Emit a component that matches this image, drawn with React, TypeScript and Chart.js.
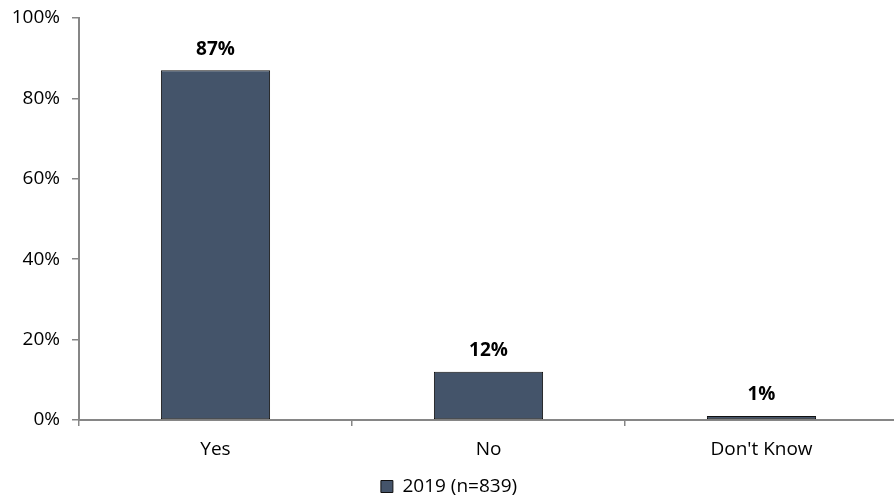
import React, { useEffect, useRef } from "react";
import { Chart, registerables } from "chart.js";

Chart.register(...registerables);

const categories = ["Yes", "No", "Don't Know"];
const seriesLabel = "2019 (n=839)";
const values = [87, 12, 1];
const yTicks = [0, 20, 40, 60, 80, 100];

const FONT = "'Open Sans', sans-serif";
const BAR_COLOR = "#44546A";
const AXIS_COLOR = "#868686";

const dataLabels = {
  id: "dataLabels",
  afterDatasetsDraw(chart: any) {
    const ctx = chart.ctx;
    const meta = chart.getDatasetMeta(0);
    ctx.save();
    ctx.font = `bold 19px ${FONT}`;
    ctx.fillStyle = "#000";
    ctx.textAlign = "center";
    ctx.textBaseline = "middle";
    meta.data.forEach((bar: any, i: number) => {
      ctx.fillText(`${values[i]}%`, bar.x, bar.y - 21);
    });
    ctx.restore();
  },
};

export default function App() {
  const ref = useRef<HTMLCanvasElement | null>(null);

  useEffect(() => {
    if (!ref.current) return;
    const chart = new Chart(ref.current, {
      type: "bar",
      data: {
        labels: categories,
        datasets: [
          {
            label: seriesLabel,
            data: values,
            backgroundColor: BAR_COLOR,
            borderColor: "#111",
            borderWidth: 1,
            borderSkipped: false,
            categoryPercentage: 1,
            barPercentage: 0.4,
          },
        ],
      },
      options: {
        responsive: false,
        animation: false,
        layout: { padding: { top: 18, right: 2, left: 0, bottom: 0 } },
        plugins: {
          legend: {
            position: "bottom",
            labels: {
              color: "#000",
              font: { family: FONT, size: 19 },
              boxWidth: 12,
              boxHeight: 12,
              padding: 10,
            },
          },
          tooltip: { enabled: false },
        },
        scales: {
          x: {
            grid: {
              display: true,
              drawOnChartArea: false,
              drawTicks: true,
              tickLength: 6,
              color: AXIS_COLOR,
              lineWidth: 1.5,
              offset: true,
            },
            border: { display: true, color: AXIS_COLOR, width: 2 },
            ticks: {
              color: "#000",
              font: { family: FONT, size: 19 },
              padding: 12,
            },
            afterFit(scale: any) {
              scale.height = 47;
              scale.paddingLeft = 0;
              scale.paddingRight = 0;
            },
          },
          y: {
            min: 0,
            max: 100,
            afterBuildTicks(scale: any) {
              scale.ticks = yTicks.map((v) => ({ value: v }));
            },
            grid: {
              display: true,
              drawOnChartArea: false,
              drawTicks: true,
              tickLength: 7,
              color: AXIS_COLOR,
              lineWidth: 1.5,
            },
            border: { display: true, color: AXIS_COLOR, width: 2 },
            ticks: {
              color: "#000",
              font: { family: FONT, size: 19 },
              padding: 12,
              callback: (v: any) => `${v}%`,
            },
            afterFit(scale: any) {
              scale.width = 79;
              scale.paddingTop = 0;
              scale.paddingBottom = 0;
            },
          },
        },
      },
      plugins: [dataLabels],
    });
    return () => chart.destroy();
  }, []);

  return (
    <div style={{ position: "fixed", left: 0, top: 0, width: 900, height: 506, background: "#fff" }}>
      <canvas ref={ref} width={900} height={506} style={{ width: 900, height: 506, display: "block" }} />
    </div>
  );
}
